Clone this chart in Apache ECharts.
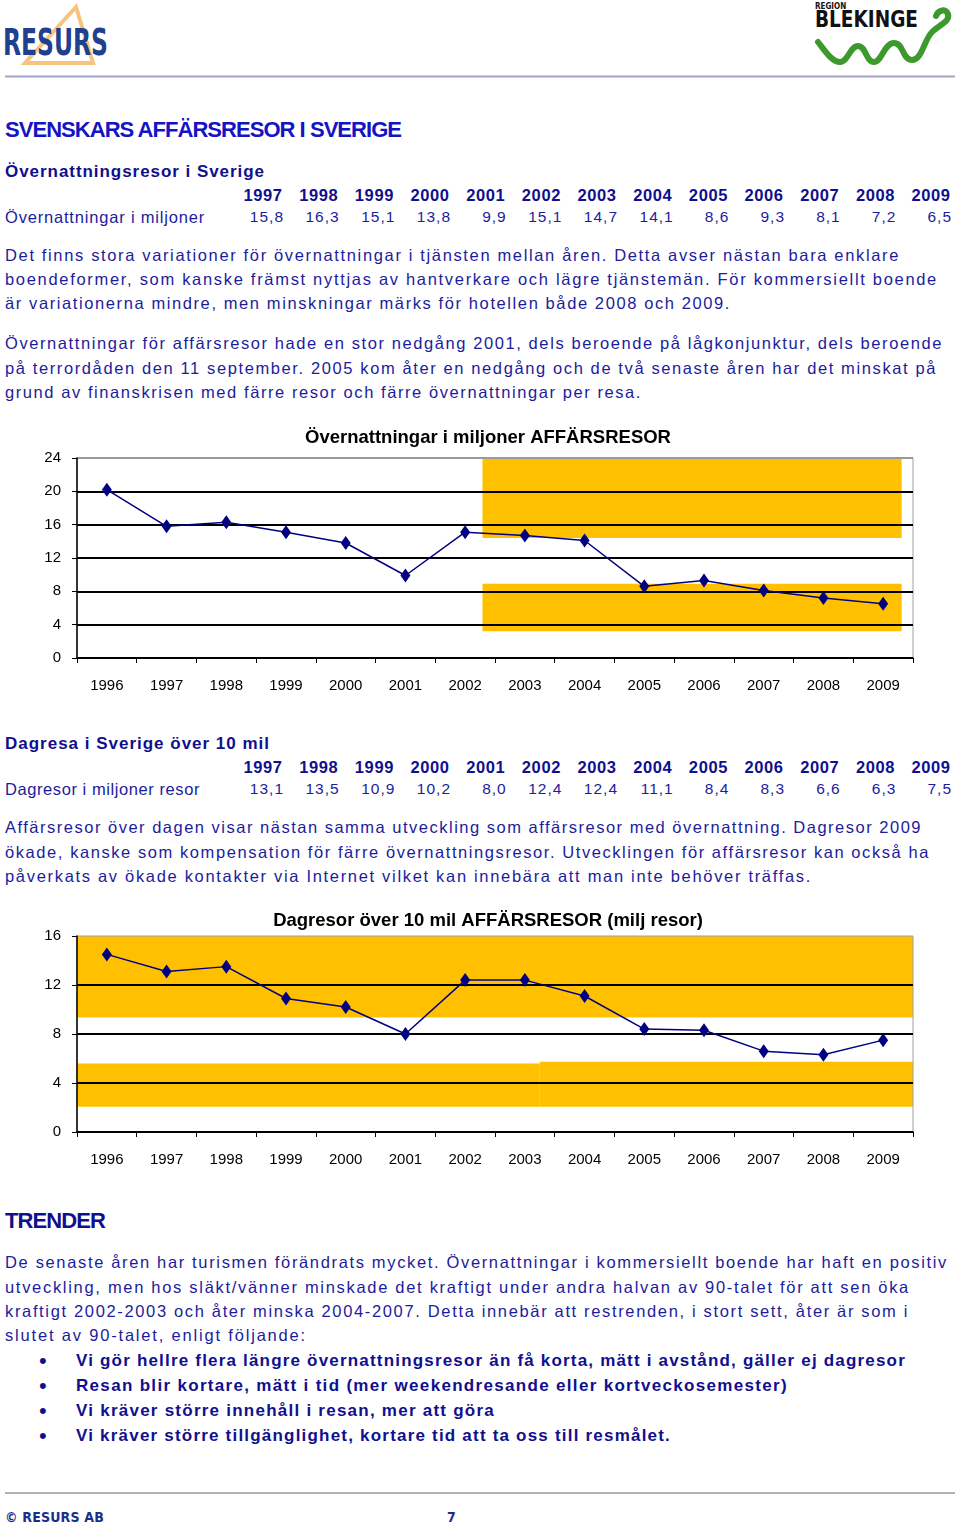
<!DOCTYPE html>
<html><head><meta charset="utf-8">
<script src="https://cdn.jsdelivr.net/npm/echarts@6/dist/echarts.min.js"></script>
<style>
body{margin:0;width:960px;height:1526px;position:relative;background:#fff;overflow:hidden;font-family:'Liberation Sans',Arial,sans-serif;}
.t{position:absolute;white-space:nowrap;line-height:20px;height:20px;}
.h1{font-weight:bold;font-size:22px;color:#1414c4;}
.h2{font-weight:bold;font-size:17px;color:#0f0f8e;}
.b{font-size:16.5px;color:#1c1c9c;}
.bul{font-weight:bold;font-size:17px;color:#10108e;}
.ty{font-weight:bold;font-size:16.5px;color:#10108e;letter-spacing:0.6px;}
.tv{font-size:15.5px;color:#1c1c9c;letter-spacing:1px;}
.tr{font-weight:bold;font-size:22px;color:#10108c;}
.dot{font-size:22px;color:#10108e;}
.foot{font-weight:bold;font-size:14px;color:#1a2f8a;font-family:'Liberation Sans Narrow','DejaVu Sans Condensed',Arial,sans-serif;}
.chart{position:absolute;left:0;width:960px;}
</style></head><body>
<svg width="960" height="80" style="position:absolute;left:0;top:0">
  <polygon points="76,7 25,63 93,63" fill="none" stroke="#f7c47e" stroke-width="4" stroke-linejoin="miter"/>
  <text x="3" y="55" font-family="Liberation Sans Narrow, DejaVu Sans Condensed, Arial" font-weight="bold" font-size="37" fill="#1f3f8f" textLength="105" lengthAdjust="spacingAndGlyphs">RESURS</text>
  <text x="815" y="9" font-family="Liberation Sans Narrow, DejaVu Sans Condensed, Arial" font-weight="bold" font-size="8" fill="#111">REGION</text>
  <text x="815" y="27" font-family="Liberation Sans Narrow, DejaVu Sans Condensed, Arial" font-weight="bold" font-size="23" fill="#111" textLength="103" lengthAdjust="spacingAndGlyphs">BLEKINGE</text>
  <path d="M818,42 C826,52 832,62 840,62 C848,62 850,46 858,46 C866,46 866,62 874,62 C882,62 884,43 894,43 C904,43 902,60 912,60 C922,60 924,40 932,32 C940,24 950,22 948,14 C946,8 938,10 936,16" fill="none" stroke="#3c9a2c" stroke-width="6" stroke-linecap="round"/>
  <line x1="5" y1="76.5" x2="955" y2="76.5" stroke="#a4a4c8" stroke-width="2"/>
</svg>
<svg width="960" height="40" style="position:absolute;left:0;top:1480">
  <line x1="5" y1="13" x2="955" y2="13" stroke="#b0b0b8" stroke-width="2"/>
</svg>
<div id="c1" class="chart" style="top:420px;height:285px"></div>
<div id="c2" class="chart" style="top:900px;height:275px"></div>
<script>
// ---------- data ----------
const years = ['1996','1997','1998','1999','2000','2001','2002','2003','2004','2005','2006','2007','2008','2009'];
const overnight = [20.2, 15.8, 16.3, 15.1, 13.8, 9.9, 15.1, 14.7, 14.1, 8.6, 9.3, 8.1, 7.2, 6.5];
const dayTrips  = [14.5, 13.1, 13.5, 10.9, 10.2, 8.0, 12.4, 12.4, 11.1, 8.4, 8.3, 6.6, 6.3, 7.5];
const chart1Title = 'Övernattningar i miljoner AFFÄRSRESOR';
const chart2Title = 'Dagresor över 10 mil AFFÄRSRESOR (milj resor)';
// decorative orange panels: [fromCategory, toCategory, fromValue, toValue]
const panels1 = [[6.29, 13.31, 14.4, 24], [6.29, 13.31, 3.2, 8.9]];
const panels2 = [[-0.5, 13.5, 9.35, 16], [-0.5, 7.25, 2.07, 5.59], [7.25, 13.5, 2.07, 5.73]];
const tableLabel1 = 'Övernattningar i miljoner';
const tableLabel2 = 'Dagresor i miljoner resor';

// ---------- text ----------
const lines = [
  ['h1','SVENSKARS AFFÄRSRESOR I SVERIGE',5,130,396],
  ['h2','Övernattningsresor i Sverige',5,172,260],
  ['b',tableLabel1,5,217,200],
  ['b','Det finns stora variationer för övernattningar i tjänsten mellan åren. Detta avser nästan bara enklare',5,255,895],
  ['b','boendeformer, som kanske främst nyttjas av hantverkare och lägre tjänstemän. För kommersiellt boende',5,279,933],
  ['b','är variationerna mindre, men minskningar märks för hotellen både 2008 och 2009.',5,303,726],
  ['b','Övernattningar för affärsresor hade en stor nedgång 2001, dels beroende på lågkonjunktur, dels beroende',5,343,938],
  ['b','på terrordåden den 11 september. 2005 kom åter en nedgång och de två senaste åren har det minskat på',5,368,932],
  ['b','grund av finanskrisen med färre resor och färre övernattningar per resa.',5,392,637],
  ['h2','Dagresa i Sverige över 10 mil',5,744,265],
  ['b',tableLabel2,5,789,195],
  ['b','Affärsresor över dagen visar nästan samma utveckling som affärsresor med övernattning. Dagresor 2009',5,827,917],
  ['b','ökade, kanske som kompensation för färre övernattningsresor. Utvecklingen för affärsresor kan också ha',5,852,925],
  ['b','påverkats av ökade kontakter via Internet vilket kan innebära att man inte behöver träffas.',5,876,807],
  ['tr','TRENDER',5,1221,100],
  ['b','De senaste åren har turismen förändrats mycket. Övernattningar i kommersiellt boende har haft en positiv',5,1262,943],
  ['b','utveckling, men hos släkt/vänner minskade det kraftigt under andra halvan av 90-talet för att sen öka',5,1287,905],
  ['b','kraftigt 2002-2003 och åter minska 2004-2007. Detta innebär att restrenden, i stort sett, åter är som i',5,1311,904],
  ['b','slutet av 90-talet, enligt följande:',5,1335,302],
  ['bul','Vi gör hellre flera längre övernattningsresor än få korta, mätt i avstånd, gäller ej dagresor',76,1361,830],
  ['bul','Resan blir kortare, mätt i tid (mer weekendresande eller kortveckosemester)',76,1386,712],
  ['bul','Vi kräver större innehåll i resan, mer att göra',76,1411,419],
  ['bul','Vi kräver större tillgänglighet, kortare tid att ta oss till resmålet.',76,1436,595],
  ['foot','© RESURS AB',5,1517,99],
  ['foot','7',447,1517,0]
];
const bulletYs = [1361,1386,1411,1436];

function addText(cls, text, x, y, w){
  const d = document.createElement('div');
  d.className = 't ' + cls;
  d.textContent = text;
  d.style.left = x + 'px';
  d.style.top = (y - 10) + 'px';
  document.body.appendChild(d);
  if (w > 0) {
    d.style.letterSpacing = '0px';
    const nat = d.getBoundingClientRect().width;
    d.style.letterSpacing = ((w - nat) / text.length) + 'px';
  }
  return d;
}
lines.forEach(l => addText(l[0], l[1], l[2], l[3], l[4]));
bulletYs.forEach(y => addText('dot', '•', 39, y, 0));

// tables (1997-2009)
const fmt = v => v.toFixed(1).replace('.', ',');
function table(vals, yYear, yVal){
  for (let i = 1; i < years.length; i++) {
    const right = 282 + (i - 1) * 55.67;
    const a = document.createElement('div');
    a.className = 't ty'; a.textContent = years[i];
    a.style.right = (960 - right - 0.6) + 'px'; a.style.top = (yYear - 10) + 'px';
    document.body.appendChild(a);
    const b = document.createElement('div');
    b.className = 't tv'; b.textContent = fmt(vals[i]);
    b.style.right = (960 - right - 2) + 'px'; b.style.top = (yVal - 10) + 'px';
    document.body.appendChild(b);
  }
}
table(overnight, 195, 217);
table(dayTrips, 767, 789);

// ---------- charts ----------
const FONT = "'Liberation Sans', Arial, sans-serif";
function panelSeries(panels){
  return {
    type: 'custom', z: -1, silent: true,
    data: panels.map((p, i) => [0, p[2]]),
    renderItem: function(params, api){
      const p = panels[params.dataIndex];
      const band = api.size([1, 0])[0];
      const base = api.coord([0, 0])[0];
      const x0 = base + p[0] * band, x1 = base + p[1] * band;
      const y0 = api.coord([0, p[2]])[1], y1 = api.coord([0, p[3]])[1];
      return { type: 'rect', shape: { x: x0, y: y1, width: x1 - x0, height: y0 - y1 }, style: { fill: '#ffc000' } };
    }
  };
}
function makeOption(title, titleTop, gridTop, gridH, max, splitColors, values, panels){
  return {
    animation: false,
    title: { text: title, left: 483, textAlign: 'center', top: titleTop,
      textStyle: { fontFamily: FONT, fontSize: 18.5, fontWeight: 'bold', color: '#000' } },
    grid: { left: 77, width: 836, top: gridTop, height: gridH, show: true, borderColor: '#a0a0a0', borderWidth: 1, backgroundColor: 'transparent' },
    xAxis: { type: 'category', data: years, boundaryGap: true,
      axisLine: { lineStyle: { color: '#000', width: 1.5 } },
      axisTick: { show: true, interval: 0, length: 5, lineStyle: { color: '#000' } },
      axisLabel: { interval: 0, margin: 20, fontFamily: FONT, fontSize: 15, color: '#000' } },
    yAxis: { type: 'value', min: 0, max: max, interval: 4,
      axisLine: { show: true, lineStyle: { color: '#000', width: 1.5 } },
      axisTick: { show: true, length: 5, lineStyle: { color: '#000' } },
      axisLabel: { margin: 16, fontFamily: FONT, fontSize: 15, color: '#000' },
      splitLine: { show: true, lineStyle: { color: splitColors, width: 2 } } },
    series: [
      panelSeries(panels),
      { type: 'line', data: values, symbol: 'diamond', symbolSize: [10, 14],
        lineStyle: { color: '#000080', width: 1.5 }, itemStyle: { color: '#000080' }, z: 3 }
    ]
  };
}
const c1 = echarts.init(document.getElementById('c1'), null, { renderer: 'canvas' });
c1.setOption(makeOption(chart1Title, 3, 38, 200, 24, ['#000','#000','#000','#000','#000','#000','#9a9a9a'], overnight, panels1));
const c2 = echarts.init(document.getElementById('c2'), null, { renderer: 'canvas' });
c2.setOption(makeOption(chart2Title, 6, 36, 196, 16, ['#000','#000','#000','#000','transparent'], dayTrips, panels2));
</script>
</body></html>
